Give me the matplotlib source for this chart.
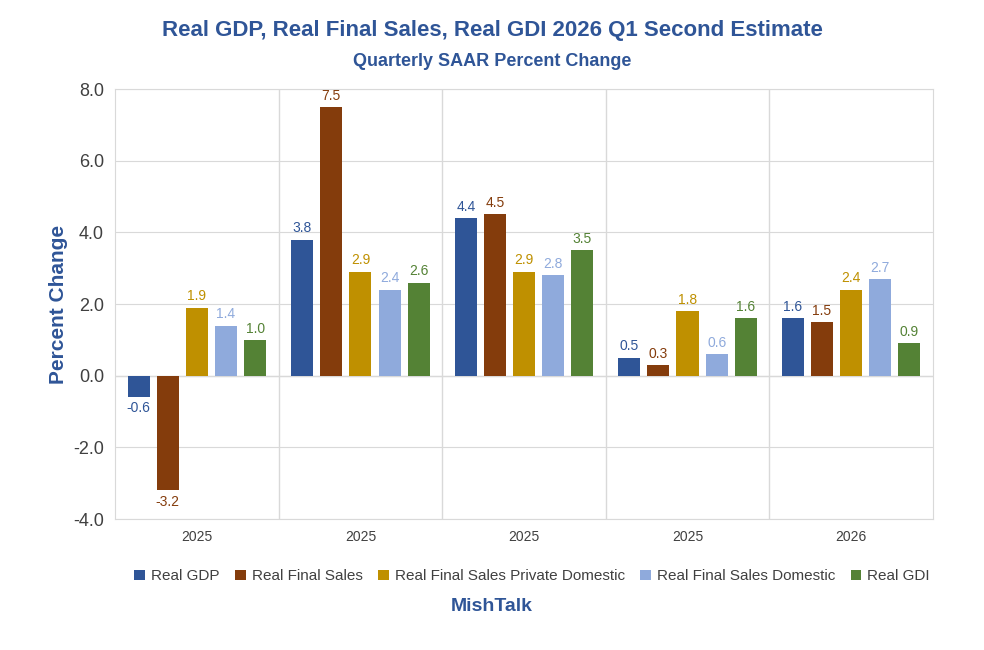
import numpy as np
import matplotlib
matplotlib.use("Agg")
from matplotlib import pyplot as plt

quarters = ["2025", "2025", "2025", "2025", "2026"]
series = ["Real GDP", "Real Final Sales", "Real Final Sales Private Domestic",
          "Real Final Sales Domestic", "Real GDI"]
gdp = [-0.6, 3.8, 4.4, 0.5, 1.6]
final_sales = [-3.2, 7.5, 4.5, 0.3, 1.5]
private_domestic = [1.9, 2.9, 2.9, 1.8, 2.4]
sales_domestic = [1.4, 2.4, 2.8, 0.6, 2.7]
gdi = [1.0, 2.6, 3.5, 1.6, 0.9]
colors = ["#2F5597", "#843C0C", "#BF9000", "#8FAADC", "#548235"]

plt.rcParams["font.family"] = ["Calibri", "Liberation Sans", "DejaVu Sans"]
fig = plt.figure(figsize=(9.84, 6.5), dpi=100)
ax = fig.add_axes([0.117, 0.2015, 0.831, 0.6615])

x = np.arange(len(quarters))
step = 0.178
width = 0.135
all_vals = [gdp, final_sales, private_domestic, sales_domestic, gdi]
for i, (vals, name, c) in enumerate(zip(all_vals, series, colors)):
    pos = x + (i - 2) * step
    ax.bar(pos, vals, width=width, color=c, label=name, zorder=3)
    for p, v in zip(pos, vals):
        off = 0.12 if v >= 0 else -0.12
        ax.text(p, v + off, f"{v:.1f}", ha="center",
                va="bottom" if v >= 0 else "top", color=c, fontsize=10)

ax.set_xlim(-0.5, len(quarters) - 0.5)
ax.set_ylim(-4, 8)
ax.set_yticks(np.arange(-4, 8.1, 2))
ax.set_yticklabels([f"{t:.1f}" for t in np.arange(-4, 8.1, 2)], fontsize=13, color="#404040")
ax.set_xticks(x)
ax.set_xticklabels(quarters, fontsize=10, color="#404040")
ax.tick_params(length=0, pad=8)
ax.grid(axis="y", color="#D9D9D9", zorder=0)
for b in np.arange(0.5, len(quarters) - 0.5, 1):
    ax.axvline(b, color="#D9D9D9", lw=1, zorder=0)
for s in ax.spines.values():
    s.set_color("#D9D9D9")
ax.axhline(0, color="#D9D9D9", lw=1, zorder=1)
ax.set_ylabel("Percent Change", fontsize=15, fontweight="bold", color="#2F5597")

fig.text(0.5, 0.945, "Real GDP, Real Final Sales, Real GDI 2026 Q1 Second Estimate",
         ha="center", fontsize=16, fontweight="bold", color="#2F5597")
fig.text(0.5, 0.898, "Quarterly SAAR Percent Change", ha="center", fontsize=13,
         fontweight="bold", color="#2F5597")
ax.legend(loc="upper center", bbox_to_anchor=(0.51, -0.085), ncol=5, frameon=False,
          fontsize=11, handlelength=0.7, handleheight=0.7, columnspacing=1.0,
          handletextpad=0.4, labelcolor="#404040")
fig.text(0.5, 0.06, "MishTalk", ha="center", fontsize=14, fontweight="bold",
         color="#2F5597")
fig.savefig("out.png", dpi=100)
